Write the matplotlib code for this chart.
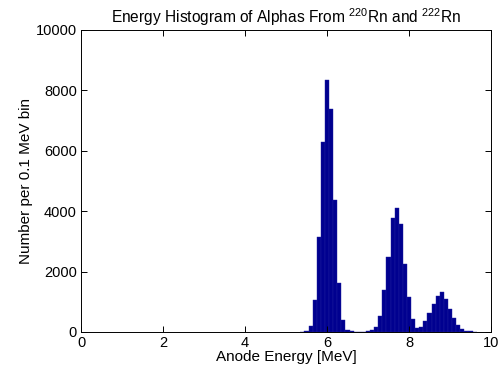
import numpy as np
import matplotlib
matplotlib.use("Agg")
import matplotlib.pyplot as plt

plt.rcParams['font.family'] = ['Liberation Sans', 'DejaVu Sans']
plt.rcParams['mathtext.fontset'] = 'custom'
plt.rcParams['mathtext.rm'] = 'Liberation Sans'
plt.rcParams['mathtext.default'] = 'regular'

# bin centres (MeV) and counts per 0.1 MeV bin
energy = [5.4, 5.5, 5.6, 5.7, 5.8, 5.9, 6.0, 6.1, 6.2, 6.3, 6.4, 6.5,
          6.6, 6.7, 6.8, 6.9, 7.0, 7.1, 7.2, 7.3, 7.4, 7.5, 7.6, 7.7,
          7.8, 7.9, 8.0, 8.1, 8.2, 8.3, 8.4, 8.5, 8.6, 8.7, 8.8, 8.9,
          9.0, 9.1, 9.2, 9.3, 9.4, 9.5, 9.6]
counts = [10, 40, 190, 1050, 3130, 6300, 8340, 7370, 4365, 1630, 400, 70,
          20, 8, 6, 12, 25, 60, 165, 530, 1405, 2490, 3760, 4090,
          3560, 2265, 1160, 445, 145, 165, 355, 620, 920, 1180, 1320, 1105,
          775, 465, 245, 110, 25, 20, 15]

fig = plt.figure(figsize=(5.02, 3.69), dpi=100)
ax = fig.add_axes([0.1614, 0.1003, 0.8167, 0.8184])

ax.bar(energy, counts, width=0.1, color='#00008f', edgecolor='#1f1fa0', linewidth=0.3)

ax.set_xlim(0, 10)
ax.set_ylim(0, 10000)
ax.set_xticks([0, 2, 4, 6, 8, 10])
ax.set_yticks([0, 2000, 4000, 6000, 8000, 10000])
ax.tick_params(direction='in', top=True, right=True, labelsize=10.5, length=4, width=0.7, pad=3)
for s in ax.spines.values():
    s.set_linewidth(0.7)

ax.set_xlabel('Anode Energy [MeV]', fontsize=11, labelpad=0)
ax.set_ylabel('Number per 0.1 MeV bin', fontsize=11, labelpad=2)
ax.set_title('Energy Histogram of Alphas From $^{220}$Rn and $^{222}$Rn', fontsize=11.2, pad=5)

fig.savefig('out.png', dpi=100)
